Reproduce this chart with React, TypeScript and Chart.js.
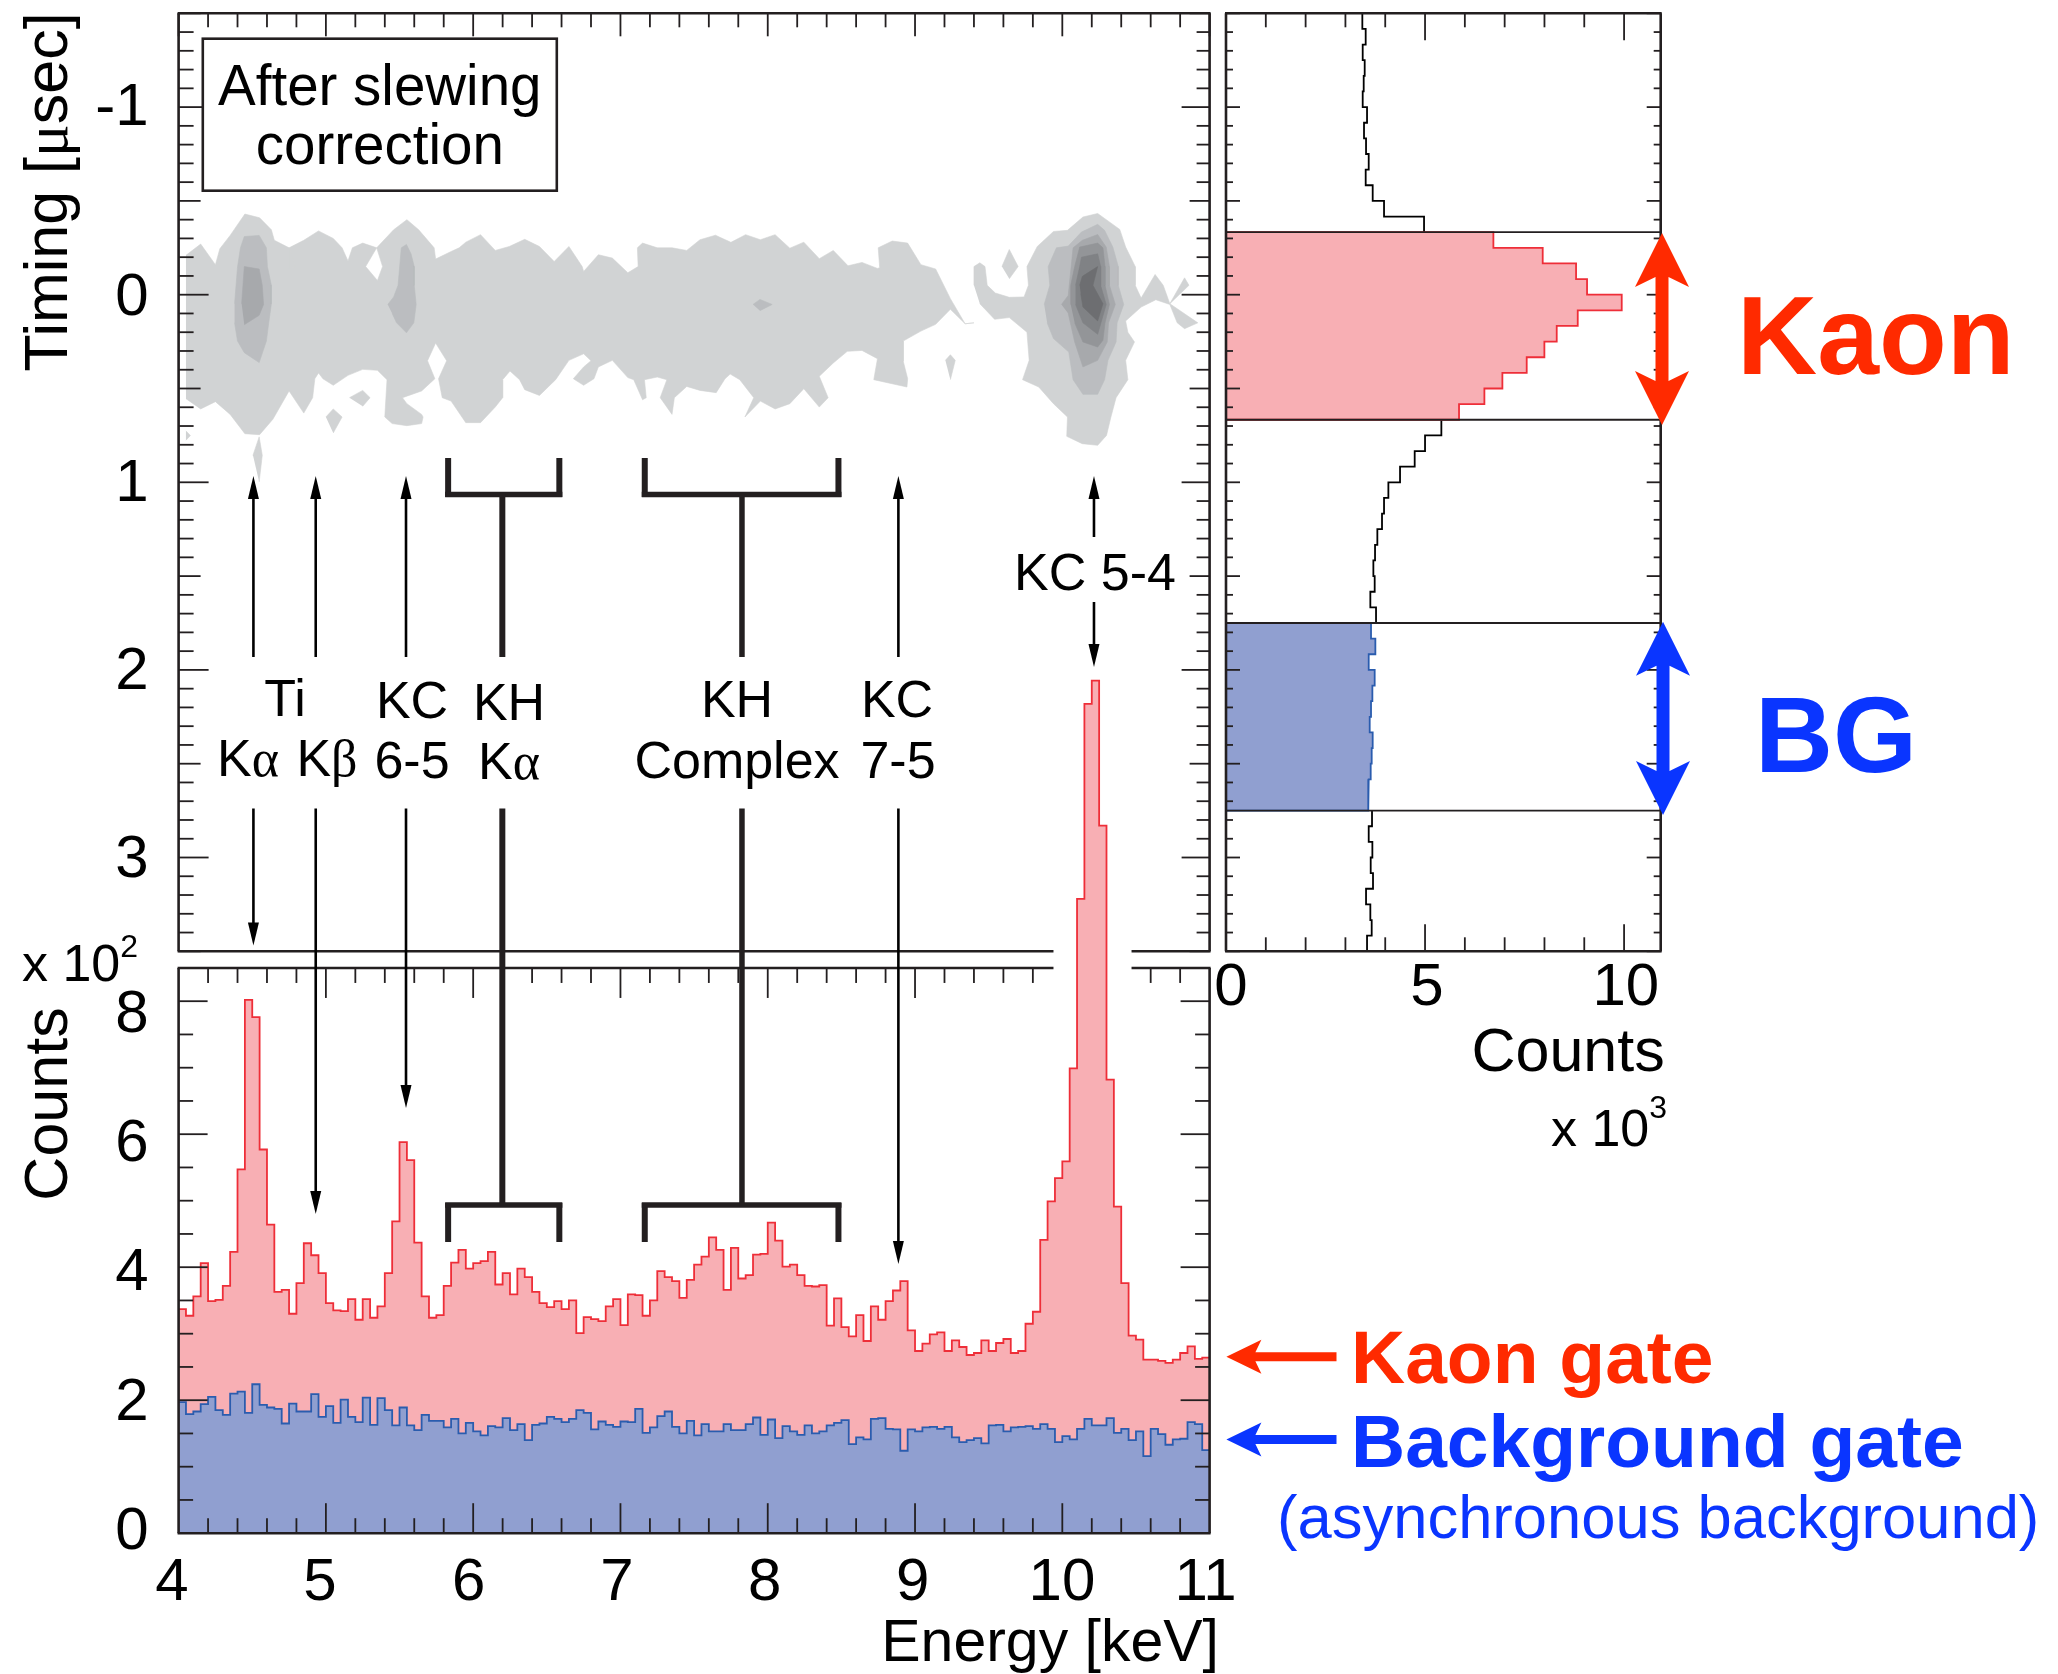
import React, { useEffect, useRef } from "react";
import { Chart, registerables } from "chart.js";

Chart.register(...registerables);

// ---------- data: energy spectra (counts per 0.05 keV bin, 4 - 11 keV) ----------
const energyStart = 4;
const energyBin = 0.05;
const kaonCounts = [
  337, 327, 356, 406, 349, 351, 372, 423, 547, 802, 776, 577, 464, 363, 366, 330, 376, 436, 418, 391,
  346, 335, 334, 352, 321, 352, 324, 341, 391, 469, 588, 561, 437, 356, 324, 328, 372, 407, 426, 398,
  406, 409, 423, 374, 391, 359, 398, 385, 363, 346, 340, 349, 337, 350, 301, 325, 322, 319, 341, 352,
  313, 359, 358, 327, 350, 394, 385, 379, 354, 381, 404, 416, 445, 426, 366, 429, 383, 388, 419, 420,
  467, 440, 401, 404, 388, 372, 371, 373, 312, 353, 310, 296, 328, 289, 341, 321, 349, 365, 379, 305,
  274, 285, 299, 302, 274, 290, 280, 268, 271, 290, 274, 286, 292, 271, 274, 315, 333, 441, 499, 534,
  559, 699, 954, 1247, 1282, 1064, 682, 491, 376, 297, 291, 261, 261, 259, 256, 261, 271, 281, 262, 264,
];
const backgroundCounts = [
  197, 179, 183, 194, 205, 185, 178, 210, 213, 181, 224, 193, 189, 187, 165, 195, 183, 183, 209, 175,
  191, 166, 201, 175, 167, 204, 163, 203, 185, 162, 189, 162, 155, 178, 169, 169, 159, 172, 150, 166,
  153, 147, 161, 159, 173, 155, 164, 140, 163, 165, 175, 172, 167, 172, 185, 181, 156, 168, 163, 160,
  168, 167, 187, 151, 159, 176, 183, 160, 150, 169, 147, 164, 153, 153, 164, 155, 155, 164, 174, 148,
  171, 143, 161, 153, 148, 162, 150, 153, 162, 166, 170, 134, 144, 141, 172, 173, 157, 156, 124, 156,
  153, 159, 160, 157, 160, 144, 137, 140, 143, 135, 162, 163, 153, 159, 160, 161, 157, 164, 157, 137,
  146, 141, 157, 172, 162, 162, 173, 151, 157, 140, 153, 116, 157, 149, 133, 141, 142, 167, 164, 125,
];

// ---------- data: timing projection (counts per 1/12 usec bin, -1.5 - 3.5 usec) ----------
const timingStart = -1.5;
const timingBin = 1 / 12;
const timingCounts = [
  3425, 3509, 3434, 3484, 3459, 3434, 3543, 3467, 3518, 3585, 3509, 3685, 3970, 4975,
  6717, 7956, 8794, 9070, 9941, 8836, 8308, 7998, 7554, 6943, 6491, 5854,
  5410, 5000, 4740, 4372, 4079, 3970, 3919, 3802, 3744, 3702, 3735, 3626, 3769,
  3643, 3752, 3585, 3735, 3677, 3643, 3610, 3685, 3660, 3635, 3585, 3568, 3668,
  3585, 3677, 3635, 3693, 3518, 3626, 3660, 3543,
];
const kaonGateBins = [14, 26];
const backgroundGateBins = [39, 51];

// ---------- data: contour levels of the energy / timing map, [keV, usec] ----------
type Pair = [number, number];
const contourBody: Pair[] = [
  [4.05, -0.21], [4.15, -0.27], [4.25, -0.16], [4.28, -0.245], [4.35, -0.316], [4.45, -0.43], [4.55, -0.41], [4.63, -0.346], [4.65, -0.29], [4.75, -0.25],
  [4.795, -0.15], [4.75, -0.14], [4.75, -0.25], [4.85, -0.29], [4.95, -0.34], [5.05, -0.3], [5.11, -0.25], [5.15, -0.18], [5.18, -0.25], [5.25, -0.275],
  [5.345, -0.25], [5.27, -0.15], [5.35, -0.076], [5.385, -0.15], [5.345, -0.25], [5.46, -0.346], [5.55, -0.4], [5.63, -0.346], [5.735, -0.25], [5.745, -0.19],
  [5.85, -0.23], [5.905, -0.25], [5.95, -0.28], [6.05, -0.32], [6.15, -0.236], [6.245, -0.257], [6.35, -0.295], [6.45, -0.257], [6.55, -0.177], [6.65, -0.257],
  [6.74, -0.15], [6.75, -0.124], [6.85, -0.213], [6.945, -0.195], [7.05, -0.117], [7.12, -0.15], [7.115, -0.25], [7.15, -0.275], [7.25, -0.25], [7.35, -0.25],
  [7.45, -0.236], [7.54, -0.293], [7.645, -0.317], [7.75, -0.279], [7.85, -0.32], [7.95, -0.293], [8.05, -0.32], [8.15, -0.248], [8.245, -0.28], [8.35, -0.192],
  [8.445, -0.236], [8.545, -0.154], [8.64, -0.172], [8.745, -0.14], [8.76, -0.144], [8.75, -0.25], [8.845, -0.286], [8.95, -0.275], [9.04, -0.16], [9.14, -0.137],
  [9.24, 0.021], [9.34, 0.155], [9.4, 0.15], [9.34, 0.155], [9.24, 0.078], [9.14, 0.158], [9.04, 0.194], [8.92, 0.247], [8.92, 0.355], [8.95, 0.448],
  [8.945, 0.492], [8.72, 0.453], [8.745, 0.341], [8.64, 0.297], [8.54, 0.302], [8.445, 0.364], [8.35, 0.435], [8.41, 0.549], [8.35, 0.599], [8.245, 0.501],
  [8.15, 0.581], [8.05, 0.609], [7.95, 0.567], [7.845, 0.652], [7.905, 0.549], [7.81, 0.453], [7.745, 0.423], [7.71, 0.448], [7.65, 0.522], [7.54, 0.51],
  [7.45, 0.489], [7.366, 0.549], [7.35, 0.638], [7.27, 0.549], [7.315, 0.453], [7.25, 0.439], [7.163, 0.453], [7.175, 0.549], [7.15, 0.56], [7.09, 0.453],
  [7.05, 0.442], [6.945, 0.35], [6.85, 0.385], [6.82, 0.448], [6.75, 0.483], [6.68, 0.448], [6.75, 0.385], [6.8, 0.352], [6.75, 0.315], [6.65, 0.35],
  [6.56, 0.453], [6.45, 0.537], [6.35, 0.506], [6.315, 0.453], [6.25, 0.407], [6.2, 0.453], [6.2, 0.549], [6.15, 0.599], [6.05, 0.682], [5.95, 0.682],
  [5.85, 0.567], [5.79, 0.549], [5.765, 0.448], [5.82, 0.352], [5.745, 0.258], [5.69, 0.352], [5.74, 0.448], [5.65, 0.513], [5.52, 0.549], [5.55, 0.581],
  [5.65, 0.638], [5.66, 0.652], [5.65, 0.687], [5.55, 0.698], [5.45, 0.687], [5.4, 0.652], [5.415, 0.453], [5.35, 0.403], [5.25, 0.398], [5.15, 0.43],
  [5.05, 0.483], [4.98, 0.448], [4.95, 0.417], [4.925, 0.448], [4.91, 0.549], [4.85, 0.631], [4.75, 0.513], [4.64, 0.664], [4.55, 0.746], [4.45, 0.741],
  [4.35, 0.638], [4.25, 0.57], [4.15, 0.609], [4.05, 0.554],
];
const contourIslandA: Pair[] = [[5.16, 0.549], [5.25, 0.51], [5.3, 0.549], [5.25, 0.595]];
const contourIslandB: Pair[] = [[5.0, 0.652], [5.05, 0.609], [5.11, 0.652], [5.05, 0.737]];
const contourIslandC: Pair[] = [[4.505, 0.856], [4.547, 0.758], [4.568, 0.856], [4.547, 0.998]];
const contourIslandD: Pair[] = [[4.05, 0.726], [4.08, 0.751], [4.05, 0.776]];
const contourIslandE: Pair[] = [[9.59, -0.15], [9.64, -0.241], [9.7, -0.15], [9.64, -0.085]];
const contourIslandF: Pair[] = [[9.206, 0.35], [9.24, 0.32], [9.273, 0.35], [9.24, 0.453]];
const contourPeakOuter: Pair[] = [
  [9.4, -0.05], [9.4, -0.15], [9.44, -0.17], [9.475, -0.15], [9.49, -0.05], [9.545, -0.009], [9.64, 0.014], [9.74, 0.012], [9.77, -0.05], [9.76, -0.15],
  [9.83, -0.257], [9.94, -0.337], [10.035, -0.343], [10.14, -0.414], [10.24, -0.433], [10.39, -0.348], [10.43, -0.254], [10.495, -0.15], [10.495, -0.05], [10.535, 0.018],
  [10.63, -0.108], [10.685, -0.05], [10.73, 0.048], [10.83, -0.09], [10.86, -0.05], [10.73, 0.048], [10.92, 0.15], [10.83, 0.181], [10.78, 0.15], [10.73, 0.052],
  [10.635, 0.027], [10.535, 0.066], [10.43, 0.14], [10.445, 0.2], [10.49, 0.252], [10.43, 0.35], [10.445, 0.453], [10.365, 0.549], [10.33, 0.652], [10.3, 0.75],
  [10.24, 0.803], [10.135, 0.794], [10.03, 0.755], [10.035, 0.652], [9.94, 0.581], [9.84, 0.492], [9.73, 0.453], [9.775, 0.35], [9.76, 0.2], [9.64, 0.122],
  [9.54, 0.131], [9.44, 0.048],
];
const contourTiLevel2: Pair[] = [
  [4.38, 0.048], [4.4, -0.147], [4.42, -0.25], [4.446, -0.31], [4.547, -0.316], [4.596, -0.25], [4.603, -0.15], [4.63, -0.05], [4.63, 0.048], [4.612, 0.15],
  [4.596, 0.247], [4.547, 0.362], [4.446, 0.309], [4.4, 0.247], [4.38, 0.15],
];
const contourTiLevel3: Pair[] = [[4.428, 0.048], [4.446, -0.15], [4.547, -0.137], [4.568, -0.05], [4.577, 0.052], [4.547, 0.11], [4.446, 0.16]];
const contourKC65Level2: Pair[] = [
  [5.42, 0.052], [5.46, 0.012], [5.49, -0.05], [5.512, -0.25], [5.547, -0.268], [5.578, -0.218], [5.6, -0.15], [5.6, -0.05], [5.613, 0.052], [5.597, 0.15],
  [5.547, 0.203], [5.48, 0.15], [5.45, 0.1],
];
const contourComplexLevel2: Pair[] = [[7.9, 0.052], [7.947, 0.025], [8.03, 0.052], [7.947, 0.085]];
const contourPeakLevel2: Pair[] = [
  [9.877, 0.052], [9.915, -0.05], [9.904, -0.15], [9.96, -0.25], [10.04, -0.259], [10.13, -0.334], [10.24, -0.375], [10.287, -0.343], [10.343, -0.254], [10.38, -0.15],
  [10.38, -0.05], [10.417, 0.052], [10.372, 0.15], [10.365, 0.252], [10.31, 0.35], [10.287, 0.453], [10.24, 0.531], [10.14, 0.531], [10.073, 0.453], [10.044, 0.306],
  [9.94, 0.234], [9.897, 0.15],
];
const contourPeakLevel3: Pair[] = [
  [9.994, 0.052], [10.04, 0.004], [10.06, -0.15], [10.073, -0.25], [10.136, -0.29], [10.24, -0.321], [10.298, -0.254], [10.32, -0.15], [10.32, -0.05], [10.36, 0.052],
  [10.314, 0.15], [10.305, 0.252], [10.24, 0.35], [10.14, 0.385], [10.084, 0.252], [10.04, 0.1],
];
const contourPeakLevel4: Pair[] = [
  [10.057, 0.052], [10.057, -0.05], [10.084, -0.15], [10.118, -0.254], [10.24, -0.275], [10.276, -0.25], [10.29, -0.15], [10.29, -0.05], [10.32, 0.052], [10.29, 0.15],
  [10.276, 0.243], [10.24, 0.279], [10.14, 0.252], [10.084, 0.15],
];
const contourPeakLevel5: Pair[] = [
  [10.09, -0.05], [10.118, -0.15], [10.13, -0.2], [10.24, -0.218], [10.26, -0.15], [10.26, -0.05], [10.298, 0.052], [10.24, 0.211], [10.14, 0.15], [10.09, 0.052],
];
const contourPeakLevel6: Pair[] = [
  [10.118, -0.05], [10.136, -0.098], [10.24, -0.15], [10.208, -0.05], [10.276, 0.048], [10.24, 0.14], [10.14, 0.066], [10.125, -0.005],
];

// ---------- data: tick labels and line energies ----------
const energyTicks = [4, 5, 6, 7, 8, 9, 10, 11];
const timingTicks = [-1, 0, 1, 2, 3];
const countTicks = [0, 200, 400, 600, 800];
const timingCountTicks = [0, 5000, 10000];
const lineTiKa = 4.508;
const lineTiKb = 4.931;
const lineKC65 = 5.544;
const lineKHKa = 6.198;
const lineKHComplex = 7.825;
const lineKC75 = 8.887;
const lineKC54 = 10.215;
const bracketKHKa = [5.83, 6.585];
const bracketComplex = [7.165, 8.48];
const frameGap = [9.94, 10.47];

// ---------- styling ----------
const W = 2058;
const H = 1674;
const INK = "#231f20";
const SANS = '"Liberation Sans"';
const SERIF = '"Liberation Serif"';
const RED = "#ff2a00";
const BLUE = "#0a35ff";
const PINK_FILL = "#f8afb4";
const PINK_LINE = "#ee2e38";
const BLUE_FILL = "#909fd0";
const BLUE_LINE = "#2a5cae";
const GREYS = ["#d1d3d4", "#bbbdc0", "#a7a9ac", "#939598", "#808285", "#6d6e71"];
const AXIS_BOX_LEFT = 170;
const AXIS_BOX_BOTTOM = 110;
const FRAME = 2.6;
const TICK = 1.8;
// hand placement of the tick labels, as in the reference (px per label)
const energyLabelShift = [-6.6, -6, -4.6, -3.5, -3, -2.4, -0.4, -4];
const countLabelShift = [-1, 3, 6.5, 10, 14];
const timingLabelShift = [1.5, 3.5, 2.5, 2.5, 2.5];
const projectionLabelShift = [5, 2, 1.7];

const range = (a: number, b: number, s: number) => {
  const out: number[] = [];
  const n = Math.round((b - a) / s);
  for (let i = 0; i <= n; i++) out.push(+(a + i * s).toFixed(6));
  return out;
};

const stepPoints = (values: number[]) =>
  values.flatMap((v, i) => [
    { x: energyStart + i * energyBin, y: v },
    { x: energyStart + (i + 1) * energyBin, y: v },
  ]);

const timeStep = (from: number, to: number, closed: boolean) => {
  const pts: { x: number; y: number }[] = [];
  if (closed) pts.push({ x: 0, y: timingStart + from * timingBin });
  for (let k = from; k < to; k++) {
    pts.push({ x: timingCounts[k], y: timingStart + k * timingBin });
    pts.push({ x: timingCounts[k], y: timingStart + (k + 1) * timingBin });
  }
  if (closed) pts.push({ x: 0, y: timingStart + to * timingBin });
  return pts;
};

const polygon = (pairs: Pair[], color: string) => ({
  data: pairs.map(([x, y]) => ({ x, y })),
  showLine: true,
  fill: "shape",
  pointRadius: 0,
  borderWidth: 0.6,
  borderColor: color,
  backgroundColor: color,
  tension: 0,
});

type Run = { t: string; f: string; dy?: number };
function drawRuns(ctx: CanvasRenderingContext2D, x: number, y: number, runs: Run[], align: "left" | "center" | "right", color = "#000") {
  ctx.save();
  ctx.fillStyle = color;
  ctx.textAlign = "left";
  ctx.textBaseline = "alphabetic";
  let total = 0;
  for (const r of runs) {
    ctx.font = r.f;
    total += ctx.measureText(r.t).width;
  }
  let cx = align === "left" ? x : align === "center" ? x - total / 2 : x - total;
  for (const r of runs) {
    ctx.font = r.f;
    ctx.fillText(r.t, cx, y + (r.dy || 0));
    cx += ctx.measureText(r.t).width;
  }
  ctx.restore();
}
const sans = (s: number, bold = false) => `${bold ? "bold " : ""}${s}px ${SANS}`;
const serif = (s: number) => `${s}px ${SERIF}`;

function seg(ctx: CanvasRenderingContext2D, x1: number, y1: number, x2: number, y2: number, w: number, color = INK) {
  ctx.strokeStyle = color;
  ctx.lineWidth = w;
  ctx.lineCap = "butt";
  ctx.beginPath();
  ctx.moveTo(x1, y1);
  ctx.lineTo(x2, y2);
  ctx.stroke();
}
function tri(ctx: CanvasRenderingContext2D, pts: number[], color: string) {
  ctx.fillStyle = color;
  ctx.beginPath();
  ctx.moveTo(pts[0], pts[1]);
  for (let i = 2; i < pts.length; i += 2) ctx.lineTo(pts[i], pts[i + 1]);
  ctx.closePath();
  ctx.fill();
}
function vArrow(ctx: CanvasRenderingContext2D, x: number, from: number, tip: number, w = 2.6) {
  const dir = tip > from ? 1 : -1;
  seg(ctx, x, from, x, tip - dir * 18, w, "#000");
  tri(ctx, [x, tip, x - 5.5, tip - dir * 23, x + 5.5, tip - dir * 23], "#000");
}
function doubleArrow(ctx: CanvasRenderingContext2D, x: number, top: number, bottom: number, color: string) {
  const hw = 27, head = 54, notch = 44, sw = 6.5;
  tri(ctx, [
    x, top, x + hw, top + head, x + sw, top + notch, x + sw, bottom - notch, x + hw, bottom - head,
    x, bottom, x - hw, bottom - head, x - sw, bottom - notch, x - sw, top + notch, x - hw, top + head,
  ], color);
}
function leftArrow(ctx: CanvasRenderingContext2D, tip: number, end: number, y: number, color: string) {
  tri(ctx, [tip, y, tip + 35, y - 17, tip + 29, y - 4.5, end, y - 4.5, end, y + 4.5, tip + 29, y + 4.5, tip + 35, y + 17], color);
}

const fixedFit = (horizontal: boolean, size: number) => (axis: any) => {
  if (horizontal) axis.height = size;
  else axis.width = size;
  axis.paddingLeft = axis.paddingRight = axis.paddingTop = axis.paddingBottom = 0;
};

// shifts the tick labels the scale has laid out
const shiftLabels = (axis: any, dx: number[], dy: number[]) => {
  axis.getLabelItems().forEach((item: any, i: number) => {
    const t = item.options.translation;
    item.options.translation = [t[0] + (dx[i] || 0), t[1] + (dy[i] || 0)];
  });
};

const baseOptions = (padding: any) => ({
  responsive: false,
  animation: false as const,
  devicePixelRatio: 1,
  events: [] as any[],
  layout: { autoPadding: false, padding },
  plugins: { legend: { display: false }, title: { display: false }, tooltip: { enabled: false } },
});

function axisOptions(horizontal: boolean, min: number, max: number, tickValues: number[] | null, size: number, extra: any = {}, format?: (v: number) => string) {
  return {
    type: "linear",
    min,
    max,
    afterFit: fixedFit(horizontal, size),
    afterBuildTicks: (axis: any) => {
      axis.ticks = (tickValues || []).map((value) => ({ value }));
    },
    border: { display: false },
    grid: { display: false, drawTicks: false, drawOnChartArea: false },
    ticks: {
      display: !!tickValues,
      autoSkip: false,
      maxRotation: 0,
      minRotation: 0,
      color: "#000",
      font: { family: "Liberation Sans", size: 60 },
      callback: (v: number) => (format ? format(v) : String(v)),
      ...extra,
    },
  };
}

// ---------- frames and tick marks ----------
const mapFrame = {
  id: "mapFrame",
  beforeDraw(chart: any) {
    shiftLabels(chart.scales.y, [], timingLabelShift);
  },
  afterDraw(chart: any) {
    const { ctx, chartArea: a, scales } = chart;
    const x = scales.x, y = scales.y;
    ctx.save();
    for (const v of range(4, 11, 0.2)) {
      const major = Math.abs(v - Math.round(v)) < 1e-6;
      const p = x.getPixelForValue(v);
      seg(ctx, p, a.top, p, a.top + (major ? 23 : 14), TICK);
    }
    for (const v of range(-1.5, 3.5, 0.1)) {
      const major = Math.abs(v - Math.round(v)) < 1e-6;
      const half = Math.abs(v * 2 - Math.round(v * 2)) < 1e-6;
      const p = y.getPixelForValue(v);
      seg(ctx, a.left, p, a.left + (major ? 30 : half ? 22 : 15), p, TICK);
      seg(ctx, a.right, p, a.right - (major ? 28 : half ? 20 : 13), p, TICK);
    }
    seg(ctx, a.left - 1, a.top, a.right + 1, a.top, FRAME);
    seg(ctx, a.left, a.top, a.left, a.bottom, FRAME);
    seg(ctx, a.right, a.top, a.right, a.bottom, FRAME);
    seg(ctx, a.left - 1, a.bottom, x.getPixelForValue(frameGap[0]), a.bottom, FRAME);
    seg(ctx, x.getPixelForValue(frameGap[1]), a.bottom, a.right + 1, a.bottom, FRAME);

    // note box
    ctx.fillStyle = "#fff";
    ctx.fillRect(202.8, 38.7, 354, 152);
    ctx.strokeStyle = INK;
    ctx.lineWidth = FRAME;
    ctx.strokeRect(202.8, 38.7, 354, 152);
    drawRuns(ctx, 379.8, 105, [{ t: "After slewing", f: sans(56.5) }], "center");
    drawRuns(ctx, 379.8, 163.5, [{ t: "correction", f: sans(56.5) }], "center");

    // timing axis title
    ctx.translate(67, 192);
    ctx.rotate(-Math.PI / 2);
    drawRuns(ctx, 0, 0, [{ t: "Timing [", f: sans(61) }, { t: "\u03bc", f: serif(61) }, { t: "sec]", f: sans(61) }], "center");
    ctx.restore();
  },
};

const projectionFrame = {
  id: "projectionFrame",
  beforeDraw(chart: any) {
    shiftLabels(chart.scales.x, projectionLabelShift, []);
  },
  afterDraw(chart: any) {
    const { ctx, chartArea: a, scales } = chart;
    const x = scales.x, y = scales.y;
    ctx.save();
    for (const v of range(0, 10000, 1000)) {
      const major = v % 5000 === 0;
      const p = x.getPixelForValue(v);
      if (v > 0) {
        seg(ctx, p, a.top, p, a.top + (major ? 27 : 14), TICK);
        seg(ctx, p, a.bottom, p, a.bottom - (major ? 27 : 14), TICK);
      }
    }
    for (const v of range(-1.5, 3.5, 0.1)) {
      const half = Math.abs(v * 2 - Math.round(v * 2)) < 1e-6;
      const p = y.getPixelForValue(v);
      seg(ctx, a.left, p, a.left + (half ? 14 : 7), p, TICK);
      seg(ctx, a.right, p, a.right - (half ? 14 : 7), p, TICK);
    }
    seg(ctx, a.left - 1, a.top, a.right + 1, a.top, FRAME);
    seg(ctx, a.left - 1, a.bottom, a.right + 1, a.bottom, FRAME);
    seg(ctx, a.left, a.top, a.left, a.bottom, FRAME);
    seg(ctx, a.right, a.top, a.right, a.bottom, FRAME);
    for (const k of [...kaonGateBins, ...backgroundGateBins]) {
      const p = y.getPixelForValue(timingStart + k * timingBin);
      seg(ctx, a.left, p, a.right, p, TICK);
    }
    drawRuns(ctx, 1664.7, 1071, [{ t: "Counts", f: sans(61) }], "right");
    drawRuns(ctx, 1551, 1146, [{ t: "x 10", f: sans(52) }, { t: "3", f: sans(32), dy: -28 }], "left");
    ctx.restore();
  },
};

const spectrumFrame = {
  id: "spectrumFrame",
  beforeDraw(chart: any) {
    shiftLabels(chart.scales.x, energyLabelShift, []);
    shiftLabels(chart.scales.y, [], countLabelShift);
  },
  afterDraw(chart: any) {
    const { ctx, chartArea: a, scales } = chart;
    const x = scales.x, y = scales.y;
    const top = y.getPixelForValue(850);
    const bottom = a.bottom;
    ctx.save();
    for (const v of range(4, 11, 0.2)) {
      const major = Math.abs(v - Math.round(v)) < 1e-6;
      const p = x.getPixelForValue(v);
      const len = major ? 30 : 15;
      if (v > 4 && v < 11) seg(ctx, p, bottom, p, bottom - len, TICK);
      if (v > 4 && v < 11 && (v < frameGap[0] || v > frameGap[1])) seg(ctx, p, top, p, top + len, TICK);
    }
    for (const v of range(0, 850, 50)) {
      const major = v % 200 === 0;
      const p = y.getPixelForValue(v);
      if (v > 0) {
        seg(ctx, a.left, p, a.left + (major ? 29 : 14.5), p, TICK);
        seg(ctx, a.right, p, a.right - (major ? 29 : 14.5), p, TICK);
      }
    }
    seg(ctx, a.left - 1, top, x.getPixelForValue(frameGap[0]), top, FRAME);
    seg(ctx, x.getPixelForValue(frameGap[1]), top, a.right + 1, top, FRAME);
    seg(ctx, a.left, top, a.left, bottom, FRAME);
    seg(ctx, a.right, top, a.right, bottom, FRAME);
    seg(ctx, a.left - 1, bottom, a.right + 1, bottom, FRAME);

    // upper arrows (towards the timing map) and lower arrows (towards the spectrum)
    const px = (v: number) => x.getPixelForValue(v);
    const bracket = (range2: number[], stem: number, stemW: number) => {
      const l = px(range2[0]), r = px(range2[1]), s = px(stem);
      seg(ctx, l, 458, l, 497, 6);
      seg(ctx, r, 458, r, 497, 6);
      seg(ctx, l - 3, 494.4, r + 3, 494.4, 5.5);
      seg(ctx, s, 494, s, 657, stemW);
      seg(ctx, l, 1203, l, 1242, 6);
      seg(ctx, r, 1203, r, 1242, 6);
      seg(ctx, l - 3, 1205, r + 3, 1205, 5.5);
      seg(ctx, s, 808.5, s, 1205, stemW);
    };
    bracket(bracketKHKa, lineKHKa, 6);
    bracket(bracketComplex, lineKHComplex, 5.5);
    for (const v of [lineTiKa, lineTiKb, lineKC65, lineKC75]) vArrow(ctx, px(v), 657, 476);
    vArrow(ctx, px(lineTiKa), 808.5, 945.5);
    vArrow(ctx, px(lineTiKb), 808.5, 1214);
    vArrow(ctx, px(lineKC65), 808.5, 1108);
    vArrow(ctx, px(lineKC75), 808.5, 1264);
    vArrow(ctx, px(lineKC54), 537, 476);
    vArrow(ctx, px(lineKC54), 602, 667);

    // line labels
    const label = 52;
    drawRuns(ctx, 285, 715.5, [{ t: "Ti", f: sans(label) }], "center");
    drawRuns(ctx, 248, 776, [{ t: "K", f: sans(label) }, { t: "\u03b1", f: serif(label) }], "center");
    drawRuns(ctx, 327, 776, [{ t: "K", f: sans(label) }, { t: "\u03b2", f: serif(label) }], "center");
    drawRuns(ctx, 412, 718, [{ t: "KC", f: sans(label) }], "center");
    drawRuns(ctx, 412, 778, [{ t: "6-5", f: sans(label) }], "center");
    drawRuns(ctx, 509, 719.5, [{ t: "KH", f: sans(label) }], "center");
    drawRuns(ctx, 509, 779, [{ t: "K", f: sans(label) }, { t: "\u03b1", f: serif(label) }], "center");
    drawRuns(ctx, 737, 717, [{ t: "KH", f: sans(label) }], "center");
    drawRuns(ctx, 737, 778, [{ t: "Complex", f: sans(label) }], "center");
    drawRuns(ctx, 897, 717, [{ t: "KC", f: sans(label) }], "center");
    drawRuns(ctx, 898, 778, [{ t: "7-5", f: sans(label) }], "center");
    drawRuns(ctx, 1095, 590, [{ t: "KC 5-4", f: sans(label) }], "center");

    // axis titles
    drawRuns(ctx, 1219, 1661, [{ t: "Energy [keV]", f: sans(59) }], "right");
    drawRuns(ctx, 22, 981, [{ t: "x 10", f: sans(52) }, { t: "2", f: sans(32), dy: -24 }], "left");
    ctx.save();
    ctx.translate(67, 1104);
    ctx.rotate(-Math.PI / 2);
    drawRuns(ctx, 0, 0, [{ t: "Counts", f: sans(61) }], "center");
    ctx.restore();

    // gate annotations
    doubleArrow(ctx, 1662, 233, 425, RED);
    doubleArrow(ctx, 1663, 621.7, 815, BLUE);
    drawRuns(ctx, 1737, 374, [{ t: "Kaon", f: sans(111, true) }], "left", RED);
    drawRuns(ctx, 1755, 772, [{ t: "BG", f: sans(108, true) }], "left", BLUE);
    leftArrow(ctx, 1226.4, 1336.5, 1356.7, RED);
    leftArrow(ctx, 1226.4, 1336.5, 1439.6, BLUE);
    drawRuns(ctx, 1351, 1383, [{ t: "Kaon gate", f: sans(75, true) }], "left", RED);
    drawRuns(ctx, 1351, 1467, [{ t: "Background gate", f: sans(75, true) }], "left", BLUE);
    drawRuns(ctx, 1277, 1538, [{ t: "(asynchronous background)", f: sans(61.5) }], "left", BLUE);
    ctx.restore();
  },
};

export default function App() {
  const mapRef = useRef<HTMLCanvasElement>(null);
  const projRef = useRef<HTMLCanvasElement>(null);
  const specRef = useRef<HTMLCanvasElement>(null);

  useEffect(() => {
    const levels = [
      polygon(contourBody, GREYS[0]),
      polygon(contourIslandA, GREYS[0]),
      polygon(contourIslandB, GREYS[0]),
      polygon(contourIslandC, GREYS[0]),
      polygon(contourIslandD, GREYS[0]),
      polygon(contourIslandE, GREYS[0]),
      polygon(contourIslandF, GREYS[0]),
      polygon(contourPeakOuter, GREYS[0]),
      polygon(contourTiLevel2, GREYS[1]),
      polygon(contourKC65Level2, GREYS[1]),
      polygon(contourComplexLevel2, GREYS[1]),
      polygon(contourPeakLevel2, GREYS[1]),
      polygon(contourTiLevel3, GREYS[2]),
      polygon(contourPeakLevel3, GREYS[2]),
      polygon(contourPeakLevel4, GREYS[3]),
      polygon(contourPeakLevel5, GREYS[4]),
      polygon(contourPeakLevel6, GREYS[5]),
    ].reverse();

    const map = new Chart(mapRef.current as any, {
      type: "scatter",
      data: { datasets: levels as any },
      options: {
        ...baseOptions({ left: 178.6 - AXIS_BOX_LEFT, top: 13.3, right: W - 1209.6, bottom: H - 951.3 }),
        scales: {
          x: axisOptions(true, 4, 11, null, 0),
          y: { ...axisOptions(false, -1.5, 3.5, timingTicks, AXIS_BOX_LEFT, { padding: 30 }), reverse: true },
        },
      } as any,
      plugins: [mapFrame],
    });

    const line = (data: any[], color: string, width: number) => ({
      data,
      showLine: true,
      pointRadius: 0,
      borderColor: color,
      borderWidth: width,
      tension: 0,
      fill: false,
    });
    const closed = (data: any[], fill: string, color: string) => ({
      ...line(data, color, 1.8),
      fill: "shape",
      backgroundColor: fill,
    });
    const proj = new Chart(projRef.current as any, {
      type: "scatter",
      data: {
        datasets: [
          closed(timeStep(backgroundGateBins[0], backgroundGateBins[1], true), BLUE_FILL, BLUE_LINE),
          closed(timeStep(kaonGateBins[0], kaonGateBins[1], true), PINK_FILL, PINK_LINE),
          line(timeStep(0, kaonGateBins[0], false), "#000", 1.8),
          line(timeStep(kaonGateBins[1], backgroundGateBins[0], false), "#000", 1.8),
          line(timeStep(backgroundGateBins[1], timingCounts.length, false), "#000", 1.8),
        ] as any,
      },
      options: {
        ...baseOptions({ left: 1226, top: 13.3, right: W - 1660.7, bottom: H - 951.3 - AXIS_BOX_BOTTOM }),
        scales: {
          x: axisOptions(true, 0, 10920, timingCountTicks, AXIS_BOX_BOTTOM, { padding: 1.5 }, (v) => String(v / 1000)),
          y: { ...axisOptions(false, -1.5, 3.5, null, 0), reverse: true },
        },
      } as any,
      plugins: [projectionFrame],
    });

    const hist = (values: number[], fillColor: string, color: string) => ({
      data: stepPoints(values),
      showLine: true,
      pointRadius: 0,
      tension: 0,
      borderColor: color,
      borderWidth: 1.8,
      backgroundColor: fillColor,
      fill: { target: { value: 0 } },
    });
    const spec = new Chart(specRef.current as any, {
      type: "scatter",
      data: {
        datasets: [hist(backgroundCounts, BLUE_FILL, BLUE_LINE), hist(kaonCounts, PINK_FILL, PINK_LINE)] as any,
      },
      options: {
        ...baseOptions({ left: 178.6 - AXIS_BOX_LEFT, top: 1533.2 - 1300 * 0.665, right: W - 1209.6, bottom: H - 1533.2 - AXIS_BOX_BOTTOM }),
        scales: {
          x: axisOptions(true, 4, 11, energyTicks, AXIS_BOX_BOTTOM, { padding: 14 }),
          y: axisOptions(false, 0, 1300, countTicks, AXIS_BOX_LEFT, { padding: 30 }, (v) => String(v / 100)),
        },
      } as any,
      plugins: [spectrumFrame],
    });

    return () => {
      map.destroy();
      proj.destroy();
      spec.destroy();
    };
  }, []);

  const layer: React.CSSProperties = { position: "absolute", left: 0, top: 0 };
  return (
    <div style={{ position: "absolute", left: 0, top: 0, width: W, height: H, background: "#fff", overflow: "hidden" }}>
      <canvas ref={mapRef} width={W} height={H} style={layer} />
      <canvas ref={projRef} width={W} height={H} style={layer} />
      <canvas ref={specRef} width={W} height={H} style={layer} />
    </div>
  );
}
